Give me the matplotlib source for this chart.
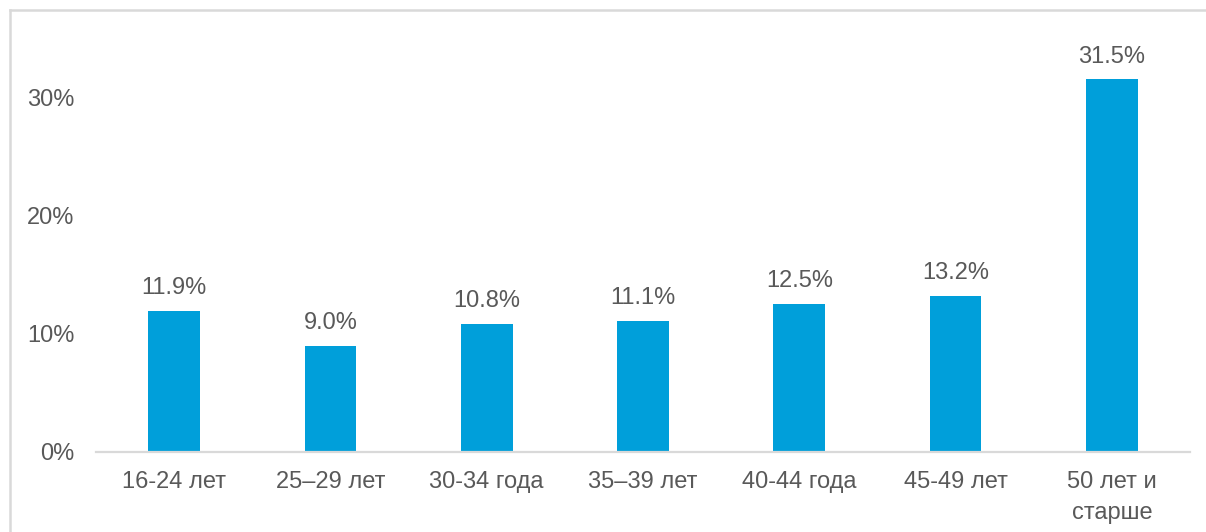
import matplotlib
matplotlib.use("Agg")
import matplotlib.pyplot as plt
from matplotlib.lines import Line2D

categories = ["16-24 лет", "25–29 лет", "30-34 года", "35–39 лет",
              "40-44 года", "45-49 лет", "50 лет и\nстарше"]
values = [11.9, 9.0, 10.8, 11.1, 12.5, 13.2, 31.5]
y_ticks = [0, 10, 20, 30]

W, H = 1206, 532
plt.rcParams['font.family'] = ['Liberation Sans', 'DejaVu Sans']
text_color = "#595959"
bar_color = "#009FDA"
line_color = "#D9D9D9"

fig = plt.figure(figsize=(W / 100, H / 100), dpi=100)

# plot area in pixel coordinates
left, right, bottom, top = 96, 1190, 452, 38
ax = fig.add_axes([left / W, 1 - bottom / H, (right - left) / W, (bottom - top) / H])

x = list(range(len(categories)))
ax.bar(x, values, width=0.33, color=bar_color, zorder=2)
ax.set_xlim(-0.5, len(categories) - 0.5)
ax.set_ylim(0, 35)

for xi, v in zip(x, values):
    ax.annotate(f"{v:.1f}%", (xi, v), xytext=(0, 8.5), textcoords="offset points",
                ha="center", va="bottom", fontsize=17, color=text_color)

ax.set_yticks(y_ticks)
ax.set_yticklabels([f"{t}%" for t in y_ticks])
ax.set_xticks(x)
ax.set_xticklabels(categories, linespacing=1.55)
ax.tick_params(axis="both", length=0, labelsize=17, labelcolor=text_color)
ax.tick_params(axis="y", pad=15.5)
ax.tick_params(axis="x", pad=13.5)

for side in ("top", "right", "left"):
    ax.spines[side].set_visible(False)
ax.spines["bottom"].set_color(line_color)
ax.spines["bottom"].set_linewidth(1.6)

# outer frame (top and left edges)
fig.add_artist(Line2D([10 / W, 10 / W], [0, 1 - 9.5 / H], transform=fig.transFigure,
                      color=line_color, lw=1.8))
fig.add_artist(Line2D([10 / W, 1], [1 - 9.5 / H, 1 - 9.5 / H], transform=fig.transFigure,
                      color=line_color, lw=1.8))

fig.savefig("out.png", dpi=100)
